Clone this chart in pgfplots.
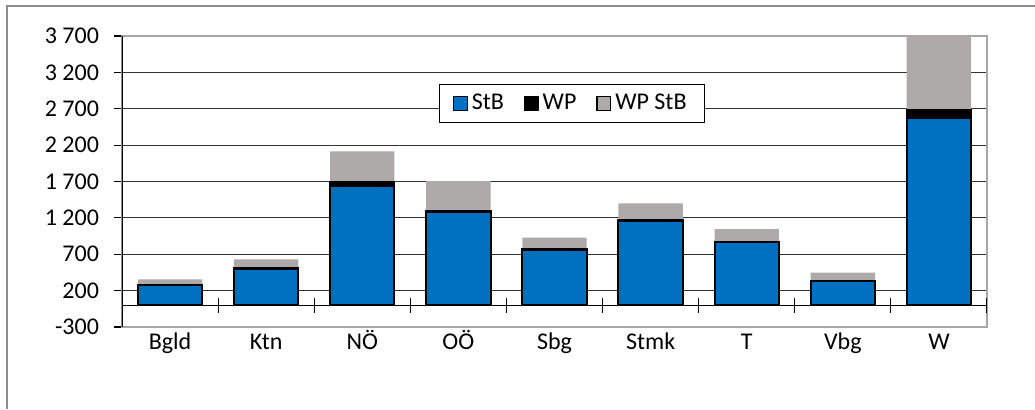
\documentclass[border=0pt]{standalone}
\usepackage{fontspec}
\setmainfont{Carlito}
\usepackage{pgfplots}
\pgfplotsset{compat=1.18}
\definecolor{stb}{HTML}{0070C0}
\definecolor{wpstb}{HTML}{AEAAAA}
\definecolor{frameg}{HTML}{8C8C8C}
\definecolor{plotg}{HTML}{A6A6A6}
\begin{document}
\begin{tikzpicture}
\useasboundingbox (0pt,0pt) rectangle (517.5pt,204.5pt);
\draw[frameg, line width=1pt] (3.5pt,0pt) -- (3.5pt,201.5pt) -- (517.5pt,201.5pt);
\begin{axis}[
  at={(61pt,41pt)}, anchor=south west,
  scale only axis, width=432.5pt, height=145.5pt,
  ybar stacked, bar width=0.67,
  xmin=-0.5, xmax=8.5, ymin=-300, ymax=3700,
  xtick={0,...,8},
  xticklabels={Bgld,Ktn,NÖ,OÖ,Sbg,Stmk,T,Vbg,W},
  ytick={-300,200,700,1200,1700,2200,2700,3200,3700},
  yticklabels={-300,200,700,1 200,1 700,2 200,2 700,3 200,3 700},
  font=\fontsize{12}{14}\selectfont,
  ticklabel style={font=\fontsize{12}{14}\selectfont},
  x tick style={draw=none},
  ytick pos=left, ytick align=outside,
  major tick length=4pt,
  y tick style={black, line width=0.6pt},
  ymajorgrids, grid style={black!80, line width=0.5pt},
  axis line style={plotg, line width=0.7pt},
  yticklabel style={xshift=-4pt},
  xticklabel style={yshift=1pt, text height=8.6pt, text depth=2.6pt},
  legend columns=3,
  legend style={at={(0.52,0.768)}, anchor=center, draw=black, fill=white,
    line width=0.5pt, inner xsep=7pt, inner ysep=3pt,
    /tikz/every even column/.append style={column sep=8pt},
    font=\fontsize{12}{14}\selectfont},
  legend image code/.code={\draw[#1, line width=0.6pt] (0pt,-3.4pt) rectangle (6.8pt,3.4pt);},
]
\addplot[fill=stb, draw=black, line width=1pt] coordinates {(0,275) (1,500) (2,1640) (3,1280) (4,760) (5,1160) (6,865) (7,330) (8,2570)};
\addplot[fill=black, draw=black, line width=1pt] coordinates {(0,5) (1,7) (2,50) (3,20) (4,8) (5,12) (6,8) (7,7) (8,110)};
\addplot[fill=wpstb, draw=none] coordinates {(0,75) (1,123) (2,425) (3,405) (4,160) (5,228) (6,174) (7,110) (8,1020)};
\legend{StB,WP,WP StB}
\draw[black, line width=0.6pt] (axis cs:-0.5,0) -- (axis cs:8.5,0);
\draw[black, line width=0.7pt] (rel axis cs:0,0) -- (rel axis cs:0,1);
\pgfplotsinvokeforeach{0.5,1.5,2.5,3.5,4.5,5.5,6.5,7.5,8.5}{
  \draw[black, line width=0.6pt] ([yshift=3.7pt]axis cs:#1,0) -- ([yshift=-3.8pt]axis cs:#1,0);
}
\end{axis}
\end{tikzpicture}
\end{document}
